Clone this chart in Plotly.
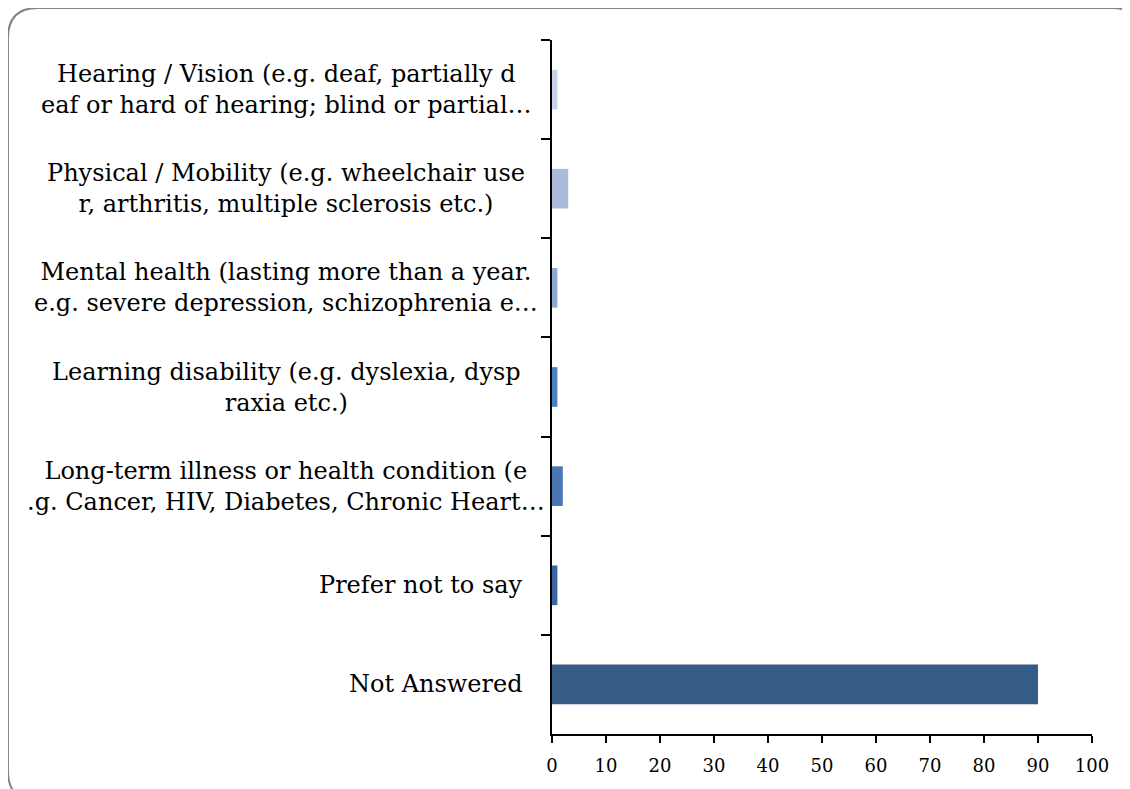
import plotly.graph_objects as go

# категории сверху вниз
categories = [
    "Hearing / Vision (e.g. deaf, partially d<br>eaf or hard of hearing; blind or partial…",
    "Physical / Mobility (e.g. wheelchair use<br>r, arthritis, multiple sclerosis etc.)",
    "Mental health (lasting more than a year.<br>e.g. severe depression, schizophrenia e…",
    "Learning disability (e.g. dyslexia, dysp<br>raxia etc.)",
    "Long-term illness or health condition (e<br>.g. Cancer, HIV, Diabetes, Chronic Heart…",
    "Prefer not to say",
    "Not Answered",
]
values = [1, 3, 1, 1, 2, 1, 90]
bar_colors = ["#c9d3e8", "#a9badb", "#8ea7d4", "#4a80c2", "#4977b4", "#3c66a0", "#365b86"]
x_ticks = [0, 10, 20, 30, 40, 50, 60, 70, 80, 90, 100]

# страница html добавляет отступ, поэтому координаты чуть сдвинуты
W, H = 1130, 789
L, R, T, B = 544, 46, 32, 63
FONT = "DejaVu Serif"


def px_to_paper(px, py):
    return (px - L) / (W - L - R), (H - B - py) / (H - T - B)


fig = go.Figure(go.Bar(
    x=values, y=categories, orientation="h",
    marker=dict(color=bar_colors, line_width=0),
    showlegend=False,
))

# подписи категорий аннотациями, чтобы двухстрочные были по центру
for cat in categories:
    if "<br>" in cat:
        fig.add_annotation(x=px_to_paper(278, 0)[0], xref="paper", y=cat, yref="y",
                           text=cat, showarrow=False, xanchor="center", align="center",
                           font=dict(family=FONT, size=24, color="black"))
    else:
        fig.add_annotation(x=0, xref="paper", y=cat, yref="y", xshift=-27,
                           text=cat, showarrow=False, xanchor="right",
                           font=dict(family=FONT, size=24, color="black"))

# рамка со скруглёнными углами
x0, y0 = px_to_paper(0, 0)
x1, y1 = px_to_paper(1134, 793)
rx = px_to_paper(30, 0)[0] - x0
ry = y0 - px_to_paper(0, 30)[1]
path = (f"M {x0+rx},{y0} L {x1-rx},{y0} Q {x1},{y0} {x1},{y0-ry} "
        f"L {x1},{y1+ry} Q {x1},{y1} {x1-rx},{y1} L {x0+rx},{y1} "
        f"Q {x0},{y1} {x0},{y1+ry} L {x0},{y0-ry} Q {x0},{y0} {x0+rx},{y0} Z")
fig.add_shape(type="path", path=path, xref="paper", yref="paper",
              line=dict(color="#858585", width=2))

fig.update_xaxes(range=[0, 100], tickvals=x_ticks, ticks="outside", ticklen=7,
                 tickcolor="black", tickwidth=1.5, showline=True, linecolor="black",
                 linewidth=1.5, showgrid=False, zeroline=False, ticklabelstandoff=8,
                 tickfont=dict(family=FONT, size=18, color="black"))
fig.update_yaxes(autorange="reversed", showticklabels=False, ticks="outside",
                 tickson="boundaries", ticklen=9, tickcolor="black", tickwidth=1.5,
                 showline=True, linecolor="black", linewidth=1.5, showgrid=False)

fig.update_layout(width=W, height=H, bargap=0.6,
                  margin=dict(l=L, r=R, t=T, b=B),
                  plot_bgcolor="white", paper_bgcolor="white")

fig.write_html("out.html")
